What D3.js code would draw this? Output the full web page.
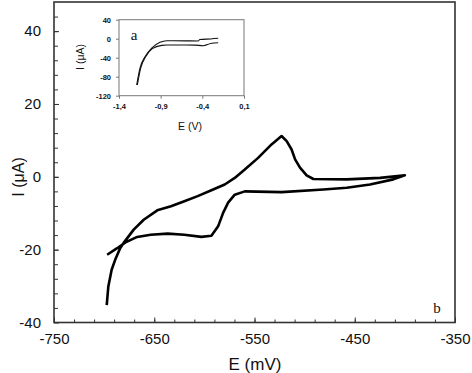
<!DOCTYPE html>
<html>
<head>
<meta charset="utf-8">
<script src="https://cdn.jsdelivr.net/npm/d3@7"></script>
<style>
  body { margin: 0; background: #fff; }
  text { font-family: "Liberation Sans", Arial, sans-serif; fill: #111; }
</style>
</head>
<body>
<svg id="chart" width="472" height="373"></svg>
<script>
// main voltammogram (b), E in mV, I in uA
var forwardE = [-697.4, -695.8, -692.5, -689, -684, -680.7, -670.5, -660.5, -647, -633.3, -620, -606.7, -593, -579.7, -569.7, -559.7, -546.4, -533, -523, -517.9, -513, -509.5, -504.6, -498, -491.3, -458, -424.7, -400];
var forwardI = [-35.2, -30.1, -25.5, -22.8, -19.6, -18.2, -14.5, -11.8, -9.2, -8.1, -6.7, -5.3, -3.7, -2.1, -0.3, 2.0, 5.2, 8.9, 11.2, 9.8, 7.5, 4.8, 2.5, 0.4, -0.6, -0.7, -0.3, 0.4];
var reverseE = [-400, -411.5, -434.8, -458, -481.3, -523, -559.7, -569.7, -576.3, -581.3, -586.3, -593, -603, -620, -636.6, -653.6, -667, -678.7, -687, -697];
var reverseI = [0.4, -0.7, -2.1, -3.0, -3.5, -4.2, -4.0, -4.9, -7.1, -9.9, -13.6, -16.2, -16.5, -15.9, -15.6, -15.9, -16.5, -18.0, -19.6, -21.4];

// inset (a), E in V, I in uA
var insetUpE = [-1.188, -1.148, -1.088, -1.008, -0.908, -0.827, -0.6, -0.45, -0.43, -0.3, -0.21];
var insetUpI = [-97.5, -62, -38, -20, -7.6, -4.2, -4.5, -4.8, -1.8, -0.5, 0.8];
var insetLowE = [-1.18, -1.14, -1.08, -1.0, -0.887, -0.827, -0.6, -0.49, -0.39, -0.3, -0.21];
var insetLowI = [-97.5, -62, -38, -21, -14, -13.3, -13.3, -13.5, -14.7, -10, -8.4];

// tick labels
var xTicks = [-750, -650, -550, -450, -350];
var yTicks = [-40, -20, 0, 20, 40];
var insetXTicks = [-1.4, -0.9, -0.4, 0.1];
var insetYTicks = [-120, -80, -40, 0, 40];

var svg = d3.select("#chart");

var x = d3.scaleLinear().domain([-750, -350]).range([54, 455]);
var y = d3.scaleLinear().domain([-40, 48]).range([322.5, 2]);

var plain = function (d) { return String(d); };

// minor ticks
svg.append("g")
  .attr("transform", "translate(0,322.5)")
  .call(d3.axisBottom(x).tickValues(d3.range(-730, -350, 20)).tickSize(-3).tickFormat(""))
  .call(g => g.select(".domain").remove())
  .call(g => g.selectAll("line").attr("stroke", "#333"));

svg.append("g")
  .attr("transform", "translate(54,0)")
  .call(d3.axisLeft(y).tickValues(d3.range(-36, 48, 4)).tickSize(-4).tickFormat(""))
  .call(g => g.select(".domain").remove())
  .call(g => g.selectAll("line").attr("stroke", "#333"));

// major ticks + labels
svg.append("g")
  .attr("transform", "translate(0,322.5)")
  .call(d3.axisBottom(x).tickValues(xTicks).tickSize(-5).tickPadding(11).tickFormat(plain))
  .call(g => g.select(".domain").remove())
  .call(g => g.selectAll("line").attr("stroke", "#333"))
  .call(g => g.selectAll("text").attr("font-size", 15).attr("font-family", null).attr("fill", "#111"));

svg.append("g")
  .attr("transform", "translate(54,0)")
  .call(d3.axisLeft(y).tickValues(yTicks).tickSize(-5).tickPadding(13).tickFormat(plain))
  .call(g => g.select(".domain").remove())
  .call(g => g.selectAll("line").attr("stroke", "#333"))
  .call(g => g.selectAll("text").attr("font-size", 15).attr("font-family", null).attr("fill", "#111"));

// frame
svg.append("rect")
  .attr("x", x(-750)).attr("y", y(48))
  .attr("width", x(-350) - x(-750)).attr("height", y(-40) - y(48))
  .attr("fill", "none").attr("stroke", "#333").attr("stroke-width", 1.6);

// axis titles
svg.append("text")
  .attr("x", 255).attr("y", 370)
  .attr("text-anchor", "middle").attr("font-size", 17)
  .text("E (mV)");

svg.append("text")
  .attr("transform", "translate(24,177) rotate(-90)")
  .attr("text-anchor", "middle").attr("font-size", 16)
  .text("I (μA)");

svg.append("text")
  .attr("x", 437).attr("y", 313)
  .attr("text-anchor", "middle").attr("font-size", 15)
  .style("font-family", "'Liberation Serif', serif")
  .text("b");

// voltammogram
var line = d3.line()
  .x(d => x(d[0]))
  .y(d => y(d[1]));

var cycle = d3.zip(forwardE, forwardI).concat(d3.zip(reverseE, reverseI).slice(1));

svg.append("path")
  .datum(cycle)
  .attr("fill", "none")
  .attr("stroke", "#000")
  .attr("stroke-width", 2.6)
  .attr("stroke-linejoin", "round")
  .attr("d", line);

// inset
var ix = d3.scaleLinear().domain([-1.4, 0.1]).range([119, 244]);
var iy = d3.scaleLinear().domain([-120, 40]).range([95.7, 19.7]);
var comma = function (d) { return String(d).replace(".", ","); };

var inset = svg.append("g").attr("class", "inset");

inset.append("rect")
  .attr("x", ix(-1.4)).attr("y", iy(40))
  .attr("width", ix(0.1) - ix(-1.4)).attr("height", iy(-120) - iy(40))
  .attr("fill", "#fff").attr("stroke", "#777").attr("stroke-width", 1);

inset.append("g")
  .attr("transform", `translate(0,${iy(-120)})`)
  .call(d3.axisBottom(ix).tickValues(insetXTicks).tickSize(3).tickPadding(5).tickFormat(comma))
  .call(g => g.select(".domain").remove())
  .call(g => g.selectAll("line").attr("stroke", "#777"))
  .call(g => g.selectAll("text").attr("font-size", 7.5).attr("font-weight", "bold").attr("font-family", null).attr("fill", "#222"));

inset.append("g")
  .attr("transform", `translate(${ix(-1.4)},0)`)
  .call(d3.axisLeft(iy).tickValues(insetYTicks).tickSize(3).tickPadding(5).tickFormat(comma))
  .call(g => g.select(".domain").remove())
  .call(g => g.selectAll("line").attr("stroke", "#777"))
  .call(g => g.selectAll("text").attr("font-size", 7.5).attr("font-weight", "bold").attr("font-family", null).attr("fill", "#222"));

var iline = d3.line()
  .x(d => ix(d[0]))
  .y(d => iy(d[1]))
  .curve(d3.curveMonotoneX);

[d3.zip(insetUpE, insetUpI), d3.zip(insetLowE, insetLowI)].forEach(function (s) {
  inset.append("path")
    .datum(s)
    .attr("fill", "none")
    .attr("stroke", "#111")
    .attr("stroke-width", 1.1)
    .attr("d", iline);
});

inset.append("text")
  .attr("x", 134).attr("y", 40)
  .attr("text-anchor", "middle").attr("font-size", 15)
  .style("font-family", "'Liberation Serif', serif")
  .text("a");

inset.append("text")
  .attr("x", 190).attr("y", 130)
  .attr("text-anchor", "middle").attr("font-size", 10.5)
  .text("E (V)");

inset.append("text")
  .attr("transform", "translate(84,57) rotate(-90)")
  .attr("text-anchor", "middle").attr("font-size", 10.5)
  .text("I (μA)");
</script>
</body>
</html>
